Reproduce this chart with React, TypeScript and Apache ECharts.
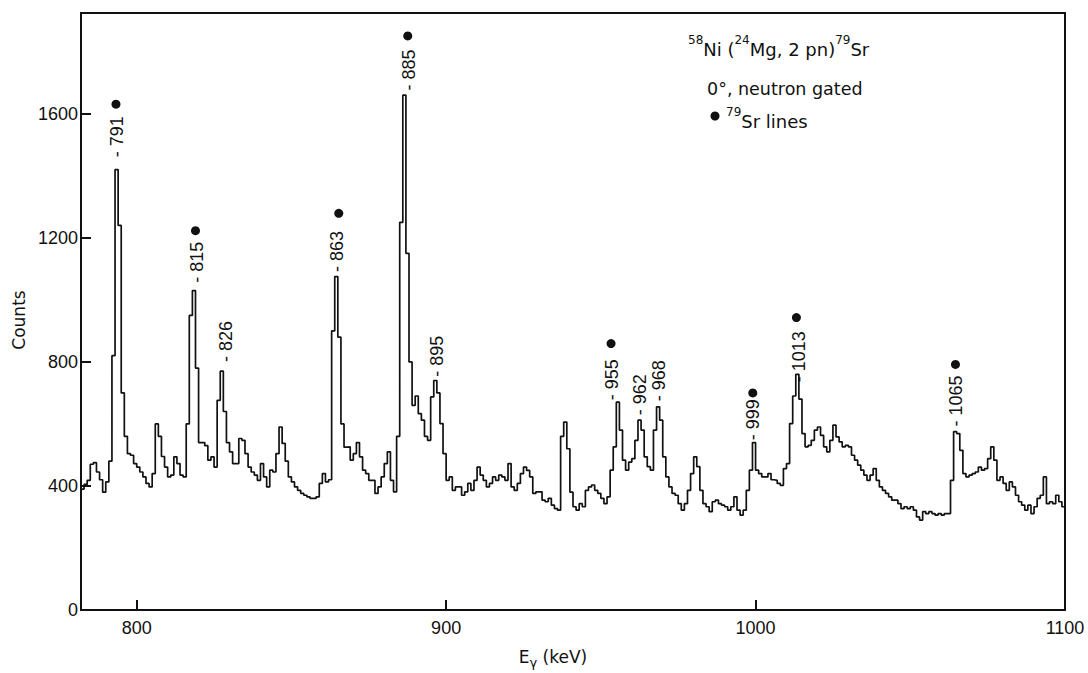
import React, { useEffect, useRef } from "react";
import * as echarts from "echarts";

// Channel layout: 1 keV channels, lower edges from E_START to E_END
const E_START = 782;
const E_END = 1100;

// Counts per 1 keV channel
const counts782to831 = [
  390, 405, 418, 470, 475, 445, 420, 380, 413, 480,
  820, 1420, 1240, 700, 560, 504, 499, 472, 461, 445,
  429, 408, 397, 440, 600, 560, 495, 461, 429, 435,
  494, 472, 435, 429, 600, 950, 1030, 780, 540, 540,
  530, 483, 494, 461, 676, 770, 640, 540, 510, 472,
];
const counts832to881 = [
  472, 553, 547, 504, 461, 445, 435, 418, 472, 429,
  397, 451, 445, 504, 590, 537, 480, 429, 413, 397,
  386, 376, 370, 365, 360, 360, 365, 408, 440, 413,
  420, 900, 1075, 880, 600, 525, 526, 483, 504, 540,
  494, 451, 440, 418, 418, 376, 397, 429, 472, 510,
];
const counts882to931 = [
  418, 381, 560, 1250, 1660, 1150, 800, 660, 690, 633,
  612, 560, 547, 687, 740, 700, 601, 504, 418, 429,
  386, 397, 397, 370, 381, 408, 386, 418, 461, 435,
  418, 397, 408, 429, 418, 435, 429, 418, 472, 397,
  386, 408, 440, 461, 450, 429, 376, 381, 381, 354,
];
const counts932to981 = [
  349, 360, 338, 327, 322, 560, 606, 520, 380, 333,
  322, 343, 333, 386, 397, 403, 386, 376, 360, 343,
  365, 451, 526, 670, 580, 483, 451, 477, 488, 547,
  612, 580, 494, 462, 451, 580, 655, 612, 494, 429,
  397, 376, 370, 343, 322, 343, 386, 440, 494, 462,
];
const counts982to1031 = [
  386, 343, 333, 317, 349, 354, 343, 338, 333, 322,
  333, 365, 322, 306, 322, 386, 451, 540, 451, 440,
  429, 429, 440, 420, 418, 408, 402, 456, 472, 601,
  690, 760, 680, 569, 526, 531, 547, 580, 590, 563,
  526, 510, 547, 596, 558, 542, 526, 531, 526, 499,
];
const counts1032to1081 = [
  483, 467, 451, 435, 418, 435, 456, 418, 397, 386,
  376, 365, 354, 354, 343, 327, 333, 327, 333, 322,
  300, 290, 317, 311, 317, 311, 306, 311, 306, 311,
  311, 418, 575, 569, 515, 440, 429, 435, 440, 445,
  461, 451, 456, 488, 526, 483, 418, 429, 408, 386,
];
const counts1082to1099 = [
  413, 397, 370, 349, 338, 322, 338, 311, 333, 360,
  370, 429, 343, 349, 343, 370, 349, 333,
];

// Peak annotations
const peakLabels = ["791", "815", "826", "863", "885", "895", "955", "962", "968", "999", "1013", "1065"];
const peakLabelE = [793.7, 819.6, 828.7, 864.8, 887.9, 897.1, 953.6, 962.5, 968.7, 999.1, 1013.9, 1064.8];
const peakLabelC = [1460, 1055, 800, 1090, 1675, 752, 676, 628, 673, 547, 734, 592];

// 79Sr line markers (dots)
const srDotE = [793.3, 819.0, 865.3, 887.6, 953.3, 999.1, 1013.2, 1064.6];
const srDotC = [1631, 1223, 1279, 1851, 859, 700, 943, 792];

// Axis ticks
const xTicks = [800, 900, 1000, 1100];
const X_MIN = 782;
const X_MAX = 1100;
const Y_MIN = 0;
const Y_MAX = 1925;
const Y_STEP = 400;

const FONT = "Liberation Sans";
const TFONT = "DejaVu Sans";
const INK = "#111";

export default function App() {
  const ref = useRef<HTMLDivElement>(null);

  useEffect(() => {
    if (!ref.current) return;
    const chart = echarts.init(ref.current, null, { renderer: "svg" });

    const counts = [
      ...counts782to831,
      ...counts832to881,
      ...counts882to931,
      ...counts932to981,
      ...counts982to1031,
      ...counts1032to1081,
      ...counts1082to1099,
    ];
    const spectrum: number[][] = counts.map((c, i) => [E_START + i, c]);
    spectrum.push([E_END, counts[counts.length - 1]]);

    const labelData = peakLabels.map((t, i) => [peakLabelE[i], peakLabelC[i], t]);
    const dotData = srDotE.map((e, i) => [e, srDotC[i]]);

    const supStyle = { fontSize: 12, lineHeight: 12, verticalAlign: "top", fontFamily: TFONT, fill: INK };
    const mainStyle = { fontSize: 18, lineHeight: 24, verticalAlign: "bottom", fontFamily: TFONT, fill: INK };

    chart.setOption({
      animation: false,
      backgroundColor: "#ffffff",
      grid: {
        left: 81,
        right: 23,
        top: 13,
        bottom: 63,
        show: true,
        borderColor: INK,
        borderWidth: 2,
        backgroundColor: "transparent",
        containLabel: false,
        outerBoundsMode: "none",
      },
      xAxis: {
        type: "value",
        min: X_MIN,
        max: X_MAX,
        axisLine: { show: true, onZero: false, lineStyle: { color: INK, width: 2 } },
        splitLine: { show: false },
        axisTick: { show: true, inside: true, length: 10, customValues: xTicks, lineStyle: { color: INK, width: 2 } },
        axisLabel: {
          customValues: xTicks,
          color: INK,
          fontSize: 18,
          fontFamily: FONT,
          margin: 9,
          formatter: (v: number) => String(v),
        },
      },
      yAxis: {
        type: "value",
        min: Y_MIN,
        max: Y_MAX,
        interval: Y_STEP,
        axisLine: { show: true, onZero: false, lineStyle: { color: INK, width: 2 } },
        splitLine: { show: false },
        axisTick: { show: true, inside: true, length: 10, lineStyle: { color: INK, width: 2 } },
        axisLabel: {
          color: INK,
          fontSize: 18,
          fontFamily: FONT,
          margin: 3,
          showMaxLabel: false,
          formatter: (v: number) => (v % Y_STEP === 0 ? String(v) : ""),
        },
      },
      series: [
        {
          type: "line",
          data: spectrum,
          step: "end",
          symbol: "none",
          lineStyle: { color: INK, width: 1.7 },
          silent: true,
          z: 3,
        },
        {
          type: "scatter",
          data: dotData,
          symbol: "circle",
          symbolSize: 9,
          itemStyle: { color: INK, opacity: 1 },
          silent: true,
          z: 4,
        },
        {
          type: "scatter",
          data: labelData,
          symbolSize: 0.01,
          itemStyle: { color: "rgba(0,0,0,0)", opacity: 1 },
          silent: true,
          z: 5,
          label: {
            show: true,
            position: "inside",
            rotate: 90,
            align: "left",
            verticalAlign: "middle",
            formatter: (p: any) => "- " + p.value[2],
            color: INK,
            opacity: 1,
            fontSize: 18,
            fontFamily: FONT,
          },
        },
      ],
      graphic: [
        {
          type: "text",
          x: 19,
          y: 320,
          rotation: Math.PI / 2,
          style: {
            text: "Counts",
            align: "center",
            verticalAlign: "middle",
            fontSize: 17,
            fontFamily: TFONT,
            fill: INK,
          },
        },
        {
          type: "text",
          x: 553,
          y: 655,
          style: {
            text: "{m|E}{sub|γ}{m| (keV)}",
            align: "center",
            verticalAlign: "middle",
            rich: {
              m: { fontSize: 17, lineHeight: 20, verticalAlign: "bottom", fontFamily: TFONT, fill: INK },
              sub: { fontSize: 13, lineHeight: 12, verticalAlign: "bottom", fontFamily: TFONT, fill: INK, padding: [0, 0, -4, 0] },
            },
          },
        },
        {
          type: "text",
          left: 688,
          top: 34,
          style: {
            text: "{sup|58}{m|Ni (}{sup|24}{m|Mg, 2 pn)}{sup|79}{m|Sr}",
            rich: { sup: supStyle, m: mainStyle },
          },
        },
        {
          type: "text",
          left: 707,
          top: 80,
          style: {
            text: "0°, neutron gated",
            fontSize: 17.5,
            fontFamily: TFONT,
            fill: INK,
          },
        },
        {
          type: "circle",
          shape: { cx: 715, cy: 116, r: 4.5 },
          style: { fill: INK },
        },
        {
          type: "text",
          left: 726,
          top: 106,
          style: {
            text: "{sup|79}{m|Sr lines}",
            rich: { sup: supStyle, m: mainStyle },
          },
        },
      ],
    });

    return () => {
      chart.dispose();
    };
  }, []);

  return (
    <div
      ref={ref}
      style={{ position: "fixed", left: 0, top: 0, width: 1088, height: 673, background: "#fff" }}
    />
  );
}
